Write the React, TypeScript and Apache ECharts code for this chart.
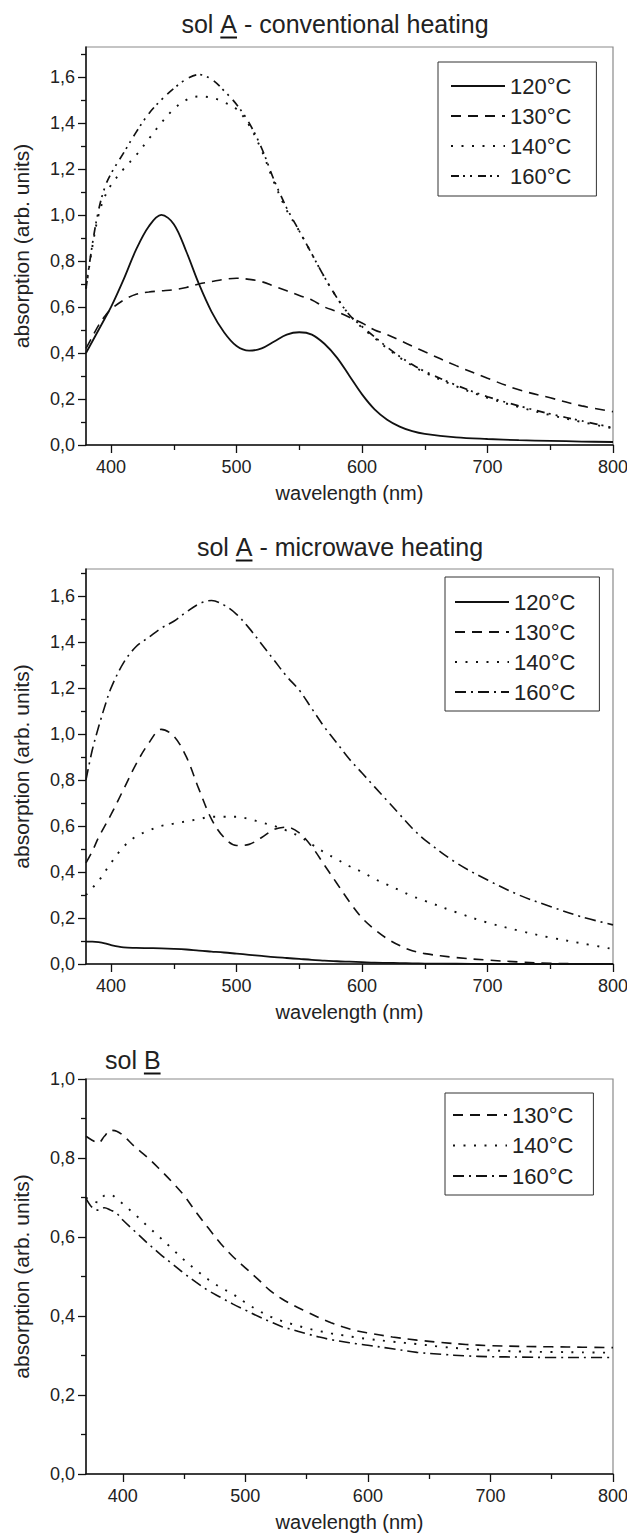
import React, { useEffect, useRef } from "react";
import * as echarts from "echarts";

// ---------- data ----------
const WL_A = [380, 385, 390, 395, 400, 410, 420, 430, 440, 450, 460, 470, 480, 490, 500, 510, 520, 530, 540, 550, 560, 570, 580, 590, 600, 610, 620, 630, 640, 650, 675, 700, 725, 750, 775, 800];

// sol A - conventional heating
const CONV_120 = [0.40, 0.45, 0.50, 0.55, 0.60, 0.72, 0.85, 0.95, 1.00, 0.96, 0.84, 0.70, 0.58, 0.49, 0.43, 0.41, 0.42, 0.45, 0.48, 0.49, 0.48, 0.44, 0.38, 0.30, 0.22, 0.155, 0.11, 0.08, 0.06, 0.048, 0.033, 0.026, 0.021, 0.018, 0.015, 0.013];
const CONV_130 = [0.42, 0.47, 0.52, 0.56, 0.59, 0.63, 0.655, 0.665, 0.67, 0.675, 0.685, 0.70, 0.71, 0.72, 0.725, 0.72, 0.71, 0.69, 0.67, 0.65, 0.63, 0.60, 0.58, 0.555, 0.53, 0.50, 0.48, 0.455, 0.43, 0.405, 0.345, 0.29, 0.24, 0.205, 0.17, 0.145];
const CONV_140 = [0.68, 0.86, 1.00, 1.08, 1.13, 1.20, 1.26, 1.33, 1.40, 1.46, 1.50, 1.515, 1.51, 1.49, 1.46, 1.39, 1.28, 1.14, 1.02, 0.93, 0.83, 0.73, 0.64, 0.565, 0.51, 0.465, 0.42, 0.38, 0.345, 0.315, 0.255, 0.205, 0.165, 0.13, 0.10, 0.072];
const CONV_160 = [0.68, 0.87, 1.02, 1.12, 1.18, 1.27, 1.36, 1.44, 1.50, 1.55, 1.59, 1.61, 1.59, 1.54, 1.48, 1.40, 1.29, 1.15, 1.03, 0.93, 0.83, 0.73, 0.64, 0.565, 0.515, 0.47, 0.425, 0.385, 0.35, 0.32, 0.26, 0.21, 0.17, 0.135, 0.105, 0.075];

// sol A - microwave heating
const MW_120 = [0.097, 0.097, 0.095, 0.09, 0.082, 0.072, 0.07, 0.069, 0.068, 0.066, 0.063, 0.058, 0.054, 0.05, 0.045, 0.04, 0.035, 0.03, 0.026, 0.022, 0.018, 0.015, 0.012, 0.01, 0.008, 0.006, 0.005, 0.004, 0.003, 0.002, 0.001, 0, 0, 0, 0, 0];
const MW_130 = [0.44, 0.49, 0.55, 0.60, 0.65, 0.76, 0.87, 0.96, 1.02, 0.99, 0.90, 0.76, 0.63, 0.55, 0.515, 0.52, 0.55, 0.585, 0.595, 0.57, 0.51, 0.43, 0.35, 0.27, 0.20, 0.15, 0.11, 0.08, 0.058, 0.045, 0.028, 0.017, 0.009, 0.003, 0.001, 0];
const MW_140 = [0.30, 0.33, 0.36, 0.40, 0.44, 0.51, 0.555, 0.58, 0.60, 0.61, 0.62, 0.63, 0.64, 0.64, 0.64, 0.63, 0.615, 0.60, 0.58, 0.555, 0.52, 0.485, 0.455, 0.425, 0.40, 0.37, 0.345, 0.32, 0.295, 0.275, 0.225, 0.18, 0.145, 0.115, 0.09, 0.065];
const MW_160 = [0.80, 0.93, 1.03, 1.12, 1.20, 1.31, 1.38, 1.42, 1.46, 1.49, 1.53, 1.565, 1.58, 1.56, 1.52, 1.46, 1.39, 1.32, 1.25, 1.19, 1.11, 1.03, 0.96, 0.89, 0.83, 0.77, 0.71, 0.65, 0.59, 0.54, 0.44, 0.365, 0.30, 0.25, 0.205, 0.17];

// sol B
const WL_B = [370, 375, 380, 385, 390, 395, 400, 410, 420, 430, 440, 450, 460, 470, 480, 490, 500, 510, 520, 530, 540, 550, 560, 570, 580, 590, 600, 620, 640, 660, 680, 700, 725, 750, 775, 800];
const B_130 = [0.855, 0.845, 0.838, 0.855, 0.87, 0.868, 0.858, 0.828, 0.802, 0.772, 0.74, 0.705, 0.662, 0.622, 0.583, 0.55, 0.522, 0.494, 0.465, 0.443, 0.426, 0.411, 0.396, 0.383, 0.372, 0.363, 0.357, 0.347, 0.339, 0.333, 0.328, 0.325, 0.323, 0.322, 0.321, 0.32];
const B_140 = [0.70, 0.69, 0.688, 0.705, 0.707, 0.697, 0.684, 0.657, 0.628, 0.60, 0.571, 0.542, 0.516, 0.492, 0.472, 0.455, 0.434, 0.415, 0.399, 0.387, 0.378, 0.369, 0.362, 0.356, 0.351, 0.346, 0.342, 0.335, 0.329, 0.322, 0.317, 0.313, 0.31, 0.309, 0.308, 0.307];
const B_160 = [0.698, 0.675, 0.668, 0.674, 0.668, 0.66, 0.643, 0.614, 0.585, 0.558, 0.533, 0.508, 0.485, 0.464, 0.447, 0.43, 0.415, 0.40, 0.386, 0.373, 0.364, 0.355, 0.347, 0.34, 0.335, 0.33, 0.326, 0.317, 0.308, 0.303, 0.299, 0.297, 0.296, 0.295, 0.295, 0.295];

// ticks
const X_MAJOR = [400, 500, 600, 700, 800];
const X_MINOR = [450, 550, 650, 750];
const Y_MAJOR_A = [0, 0.2, 0.4, 0.6, 0.8, 1.0, 1.2, 1.4, 1.6];
const Y_MINOR_A = [0.1, 0.3, 0.5, 0.7, 0.9, 1.1, 1.3, 1.5, 1.7];
const Y_MAJOR_B = [0, 0.2, 0.4, 0.6, 0.8, 1.0];
const Y_MINOR_B = [0.1, 0.3, 0.5, 0.7, 0.9];

const TEMPS_A = ["120°C", "130°C", "140°C", "160°C"];
const TEMPS_B = ["130°C", "140°C", "160°C"];
const TITLE_1 = ["sol ", "A", " - conventional heating"];
const TITLE_2 = ["sol ", "A", " - microwave heating"];
const TITLE_3 = ["sol ", "B", ""];
const X_NAME = "wavelength (nm)";
const Y_NAME = "absorption (arb. units)";

// ---------- styles ----------
const FONT = '"Liberation Sans", Arial, Helvetica, sans-serif';
const INK = "#111";
const TXT = "#222";
const SOLID: any = "solid";
const DASH = [10, 7];
const DOT = [2, 8.5];
const DASH_DOT_DOT = [8, 4, 2, 5, 2, 6];
const DASH_DOT = [11, 5, 2, 5];

export default function App() {
  const ref = useRef<HTMLDivElement>(null);

  useEffect(() => {
    const el = ref.current!;
    const chart = echarts.init(el, null, { renderer: "svg" });

    const ctx = document.createElement("canvas").getContext("2d")!;
    const TITLE_SIZE = 25;
    ctx.font = `${TITLE_SIZE}px "Liberation Sans"`;
    const tw = (s: string) => (s ? ctx.measureText(s).width : 0);

    const titleEls = (parts: string[], cx: number | null, left: number | null, cy: number) => {
      const w0 = tw(parts[0]);
      const w1 = tw(parts[1]);
      const w2 = tw(parts[2]);
      const total = w0 + w1 + w2;
      const x0 = cx != null ? cx - total / 2 : (left as number);
      const mk = (t: string, x: number) => ({
        type: "text",
        x,
        y: cy,
        silent: true,
        style: {
          text: t,
          fontSize: TITLE_SIZE,
          fontFamily: FONT,
          fill: TXT,
          textAlign: "left",
          align: "left",
          textVerticalAlign: "middle",
          verticalAlign: "middle",
        },
      });
      const els: any[] = [mk(parts[0], x0), mk(parts[1], x0 + w0)];
      if (parts[2]) els.push(mk(parts[2], x0 + w0 + w1));
      els.push({
        type: "rect",
        silent: true,
        shape: { x: x0 + w0, y: cy + 12.5, width: w1, height: 2 },
        style: { fill: INK },
      });
      return els;
    };

    const grids = [
      { left: 86, top: 47, width: 527, height: 398 },
      { left: 86, top: 569, width: 527, height: 395 },
      { left: 86, top: 1079, width: 527, height: 395 },
    ].map((g) => ({
      ...g,
      show: true,
      borderColor: "#8a8a8a",
      borderWidth: 1.2,
      backgroundColor: "transparent",
      outerBoundsMode: "none",
      containLabel: false,
    }));

    const tickStyle = { color: INK, width: 1.3 };
    const xAxes = (gi: number, min: number, max: number) => [
      {
        type: "value",
        gridIndex: gi,
        min,
        max,
        position: "bottom",
        axisLine: { show: true, onZero: false, lineStyle: { color: INK, width: 1.5 } },
        axisTick: { show: true, customValues: X_MAJOR, length: 8, lineStyle: tickStyle },
        axisLabel: { customValues: X_MAJOR, margin: 13, fontSize: 18, color: TXT, fontFamily: FONT },
        splitLine: { show: false },
        name: X_NAME,
        nameLocation: "middle",
        nameGap: 38,
        nameTextStyle: { fontSize: 20, color: TXT, fontFamily: FONT },
      },
      {
        type: "value",
        gridIndex: gi,
        min,
        max,
        position: "bottom",
        axisLine: { show: false, onZero: false },
        axisTick: { show: true, customValues: X_MINOR, length: 5, lineStyle: tickStyle },
        axisLabel: { show: false },
        splitLine: { show: false },
      },
    ];
    const yAxes = (gi: number, max: number, major: number[], minor: number[]) => [
      {
        type: "value",
        gridIndex: gi,
        min: 0,
        max,
        position: "left",
        axisLine: { show: true, onZero: false, lineStyle: { color: INK, width: 1.5 } },
        axisTick: { show: true, customValues: major, length: 8, lineStyle: tickStyle },
        axisLabel: {
          customValues: major,
          margin: 11,
          fontSize: 18,
          color: TXT,
          fontFamily: FONT,
          formatter: (v: number) => v.toFixed(1).replace(".", ","),
        },
        splitLine: { show: false },
        name: Y_NAME,
        nameLocation: "middle",
        nameGap: 54,
        nameTextStyle: { fontSize: 21, color: TXT, fontFamily: FONT },
      },
      {
        type: "value",
        gridIndex: gi,
        min: 0,
        max,
        position: "left",
        axisLine: { show: false, onZero: false },
        axisTick: { show: true, customValues: minor, length: 5, lineStyle: tickStyle },
        axisLabel: { show: false },
        splitLine: { show: false },
      },
    ];

    const LABELS: Record<string, string> = {};
    const mkSeries = (id: string, label: string, gi: number, xs: number[], ys: number[], type: any, width: number) => {
      LABELS[id] = label;
      return {
        type: "line",
        name: id,
        xAxisIndex: gi * 2,
        yAxisIndex: gi * 2,
        data: xs.map((x, i) => [x, ys[i]]),
        symbol: "none",
        showSymbol: false,
        smooth: 0.35,
        silent: true,
        color: INK,
        itemStyle: { color: INK },
        lineStyle: { color: INK, width, type, cap: "butt" },
        z: 3,
      };
    };

    const series = [
      mkSeries("a120", TEMPS_A[0], 0, WL_A, CONV_120, SOLID, 1.8),
      mkSeries("a130", TEMPS_A[1], 0, WL_A, CONV_130, DASH, 1.6),
      mkSeries("a140", TEMPS_A[2], 0, WL_A, CONV_140, DOT, 1.9),
      mkSeries("a160", TEMPS_A[3], 0, WL_A, CONV_160, DASH_DOT_DOT, 1.7),
      mkSeries("m120", TEMPS_A[0], 1, WL_A, MW_120, SOLID, 1.8),
      mkSeries("m130", TEMPS_A[1], 1, WL_A, MW_130, DASH, 1.6),
      mkSeries("m140", TEMPS_A[2], 1, WL_A, MW_140, DOT, 1.9),
      mkSeries("m160", TEMPS_A[3], 1, WL_A, MW_160, DASH_DOT, 1.6),
      mkSeries("b130", TEMPS_B[0], 2, WL_B, B_130, DASH, 1.6),
      mkSeries("b140", TEMPS_B[1], 2, WL_B, B_140, DOT, 1.9),
      mkSeries("b160", TEMPS_B[2], 2, WL_B, B_160, DASH_DOT, 1.6),
    ];

    const legendBase = {
      orient: "vertical",
      itemWidth: 54,
      itemHeight: 14,
      itemGap: 8,
      borderColor: "#333",
      borderWidth: 1,
      backgroundColor: "#fff",
      selectedMode: false,
      itemStyle: { opacity: 0, borderWidth: 0, borderColor: "rgba(0,0,0,0)", color: "rgba(0,0,0,0)" },
      lineStyle: { opacity: 1 },
      formatter: (n: string) => LABELS[n],
      textStyle: { fontSize: 22, lineHeight: 22, color: TXT, fontFamily: FONT },
    };

    const option: any = {
      animation: false,
      backgroundColor: "#fff",
      grid: grids,
      xAxis: [...xAxes(0, 380, 800), ...xAxes(1, 380, 800), ...xAxes(2, 370, 800)],
      yAxis: [...yAxes(0, 1.73, Y_MAJOR_A, Y_MINOR_A), ...yAxes(1, 1.717, Y_MAJOR_A, Y_MINOR_A), ...yAxes(2, 1.0, Y_MAJOR_B, Y_MINOR_B)],
      legend: [
        { ...legendBase, data: ["a120", "a130", "a140", "a160"], left: 438, top: 62, padding: [13, 25, 9, 12] },
        { ...legendBase, data: ["m120", "m130", "m140", "m160"], left: 445, top: 577, padding: [14, 24, 8, 9] },
        { ...legendBase, data: ["b130", "b140", "b160"], left: 445, top: 1093, padding: [11, 20, 8, 7], itemGap: 8.5 },
      ],
      series,
      graphic: [
        ...titleEls(TITLE_1, 335, null, 24),
        ...titleEls(TITLE_2, 340, null, 547),
        ...titleEls(TITLE_3, null, 105, 1060),
      ],
    };

    chart.setOption(option);
    return () => chart.dispose();
  }, []);

  return (
    <div
      ref={ref}
      style={{ position: "absolute", left: 0, top: 0, width: 627, height: 1534, background: "#fff" }}
    />
  );
}
